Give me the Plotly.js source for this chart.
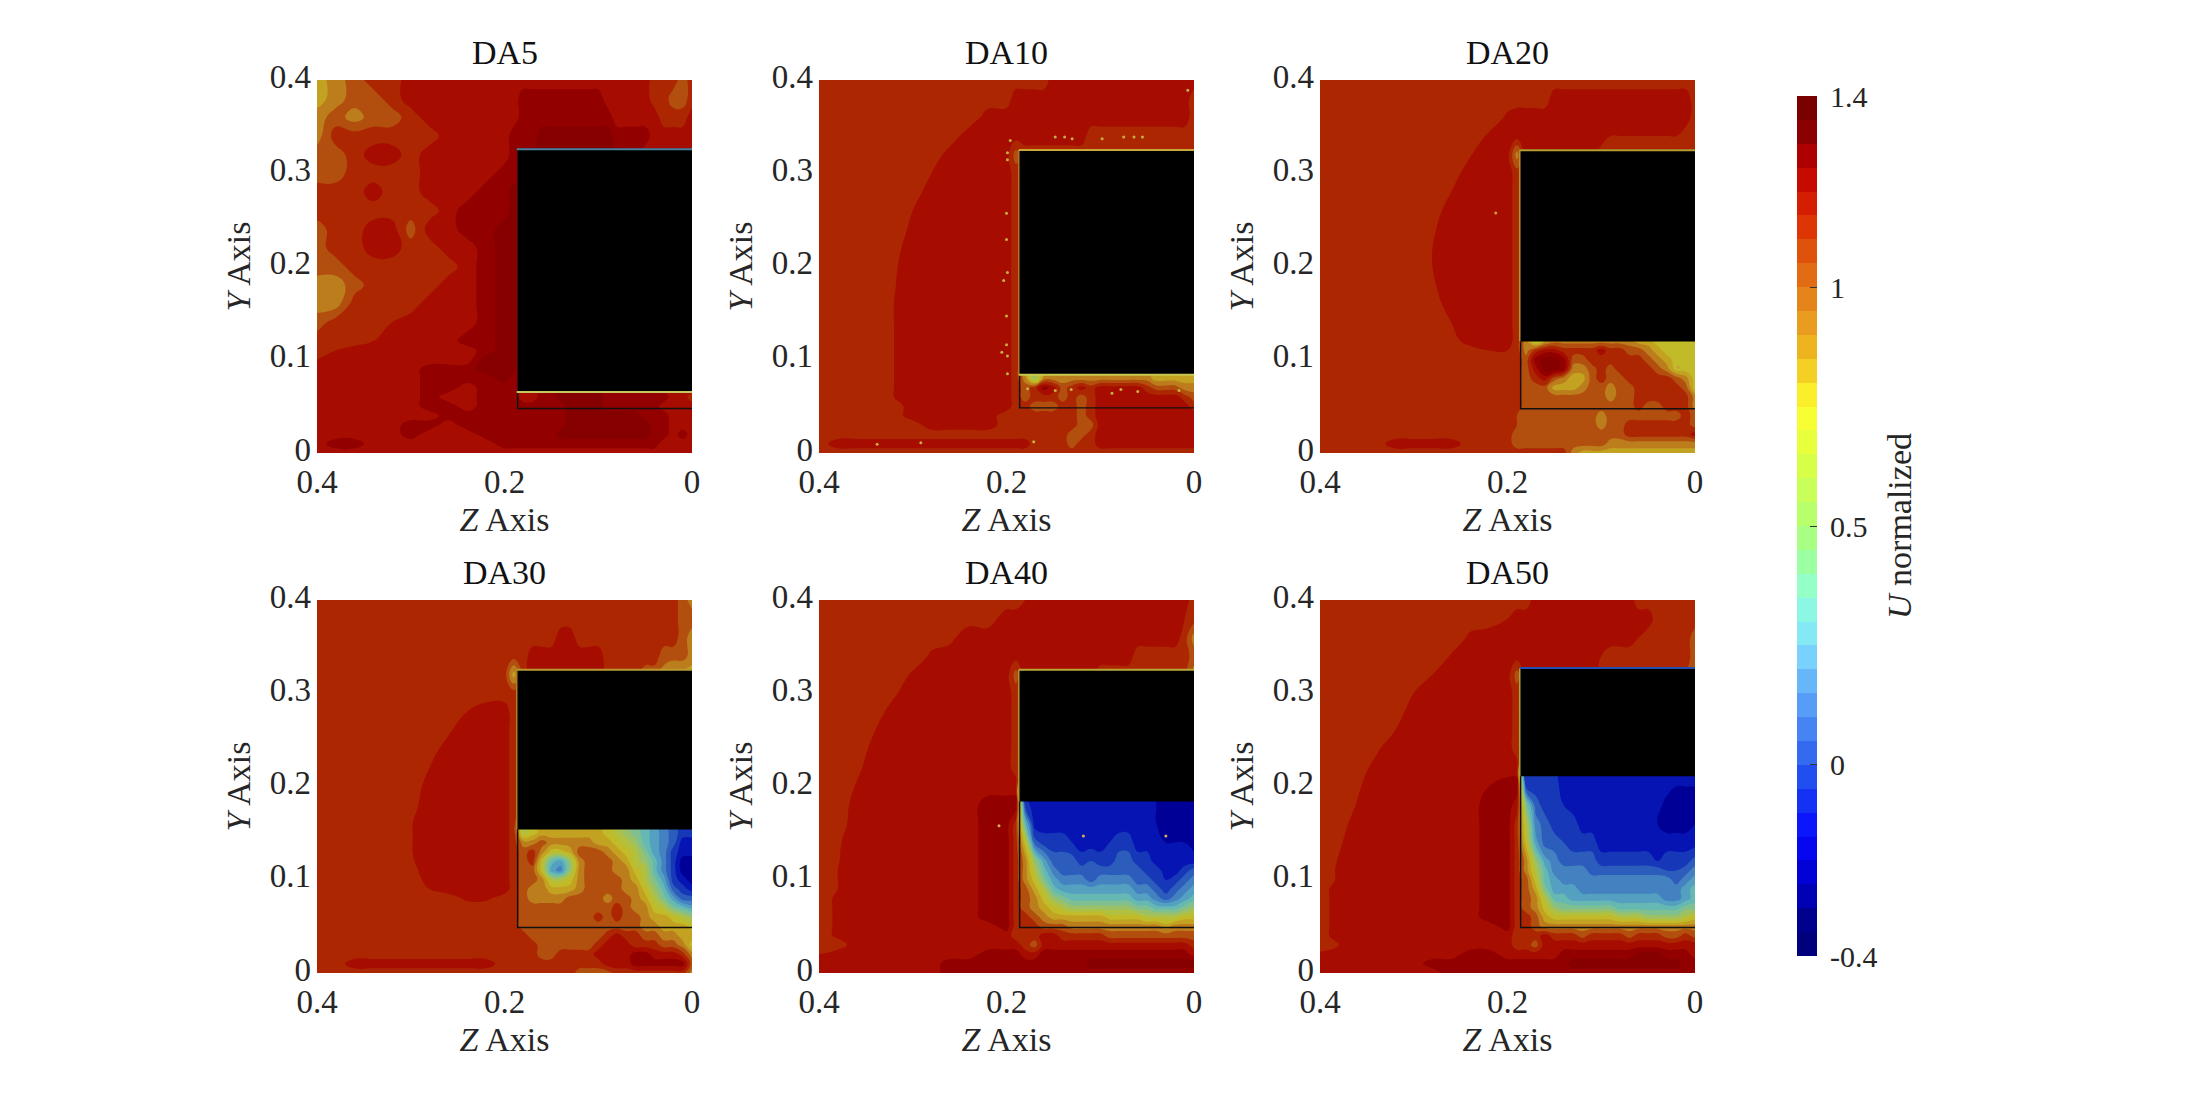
<!DOCTYPE html>
<html>
<head>
<meta charset="utf-8">
<script src="https://cdn.plot.ly/plotly-3.0.1.min.js"></script>
<style>html,body{margin:0;padding:0;background:#fff}</style>
</head>
<body>
<div id="chart" style="width:2187px;height:1093px"></div>
<script>
/***** grid, shared by all panels *****/
var zAxisNodes = [.40,.38,.36,.34,.32,.30,.28,.26,.24,.22,.20,
  .19,.18,.17,.16,.15,.14,.13,.12,.11,.10,
  .09,.08,.07,.06,.05,.04,.03,.02,.01,0];
var yNodes = [.40,.38,.36,.34,.32,.30,.28,.26,.24,.22,.20,.18,.16,.14,.12,.11,.10,.09,.08,.07,.06,.05,.04,.03,.02,.01,0];
var yNodesDA30 = [.40,.38,.36,.34,.32,.30,.28,.26,.24,.22,.20,.18,.16,.15,.14,.13,.12,.11,.10,.09,.08,.07,.06,.05,.04,.03,.02,.01,0];

/***** U normalized x 100, rows top to bottom *****/
var da5 = [
[75,85,95,105,105,115,115,115,115,115,115, 115,115,115,115,115,115,115,115,115,115, 115,115,115,115,115,105,105,105,95,105],
[75,85,95,95,105,115,115,115,115,115,115, 115,125,125,125,125,125,125,125,125,125, 115,115,115,115,115,105,105,95,95,105],
[85,95,85,95,95,105,115,115,115,115,115, 115,125,125,125,125,125,125,125,125,125, 125,115,115,115,115,115,105,105,105,115],
[85,105,105,105,105,105,105,115,115,115,115, 125,125,125,135,135,135,135,135,135,135, 135,125,125,125,125,115,115,115,115,115],
[95,95,105,115,115,105,115,115,115,115,115, 125,125,125,135,135,135,135,135,135,135, 135,125,125,125,115,115,115,115,115,115],
[95,95,105,105,105,105,115,115,115,115,125, 125,125,125,125,125,125,125,125,125,125, 125,115,115,115,115,115,115,115,115,115],
[105,105,105,115,105,105,115,115,115,125,125, 135,115,115,115,115,115,115,115,115,115, 115,115,115,115,115,115,115,115,115,115],
[105,105,105,105,105,105,105,115,125,125,125, 135,115,115,115,115,115,115,115,115,115, 115,115,115,115,115,115,115,115,115,115],
[95,105,105,115,115,95,115,115,125,125,135, 135,115,115,115,115,115,115,115,115,115, 115,115,115,115,115,115,115,115,115,115],
[95,105,105,115,115,105,105,115,115,125,135, 135,115,115,115,115,115,115,115,115,115, 115,115,115,115,115,115,115,115,115,115],
[95,95,105,105,105,105,105,105,115,125,135, 135,115,115,115,115,115,115,115,115,115, 115,115,115,115,115,115,115,115,115,115],
[85,85,95,105,105,105,105,115,115,125,135, 135,115,115,115,115,115,115,115,115,115, 115,115,115,115,115,115,115,115,115,115],
[85,85,105,105,105,105,115,115,115,125,135, 135,115,115,115,115,115,115,115,115,115, 115,115,115,115,115,115,115,115,115,115],
[95,105,105,105,110,115,115,115,115,125,135, 135,115,115,115,115,115,115,115,115,115, 115,115,115,115,115,115,115,115,115,115],
[105,105,105,110,115,115,115,115,125,125,135, 135,115,115,115,115,115,115,115,115,115, 115,115,115,115,115,115,115,115,115,115],
[105,110,115,115,115,115,115,115,115,125,135, 135,115,115,115,115,115,115,115,115,115, 115,115,115,115,115,115,115,115,115,115],
[110,115,115,115,115,115,115,115,115,135,135, 135,115,115,115,115,115,115,115,115,115, 115,115,115,115,115,115,115,115,115,115],
[115,115,115,115,115,115,125,125,125,135,135, 135,115,115,115,115,115,115,115,115,115, 115,115,115,115,115,115,115,115,115,115],
[115,115,115,115,115,115,125,125,125,125,135, 125,115,115,115,115,115,115,115,115,115, 115,115,115,115,115,115,115,115,115,115],
[115,115,115,115,115,115,125,125,115,125,125, 125,115,115,125,125,135,135,135,135,135, 125,125,125,125,115,115,115,115,115,115],
[115,115,115,115,115,115,125,115,115,125,125, 125,115,115,125,125,135,135,135,135,135, 125,125,125,125,125,125,125,115,115,105],
[115,115,115,115,115,115,125,125,115,125,125, 125,125,125,125,125,125,135,135,135,135, 125,125,125,125,125,125,115,115,115,115],
[115,115,115,115,115,115,115,125,125,125,125, 125,125,125,125,125,125,135,135,135,135, 135,135,135,135,125,125,125,115,115,115],
[115,115,115,115,115,125,125,115,125,125,125, 125,125,125,125,125,125,135,135,135,135, 135,135,135,135,135,125,125,115,115,115],
[115,115,115,115,115,125,115,115,115,125,125, 125,125,125,125,125,135,135,135,135,135, 135,135,135,135,135,125,125,115,125,115],
[115,125,125,115,115,115,115,115,115,115,125, 125,125,125,125,125,125,125,125,125,125, 125,125,125,125,125,125,115,115,115,115],
[115,115,115,115,115,115,115,115,115,115,115, 115,115,115,115,115,115,115,115,115,115, 115,115,115,115,115,115,115,115,115,115]
];
var da10 = [
[105,105,105,105,105,105,105,105,105,105,105, 105,105,105,105,115,115,115,115,115,115, 115,115,115,115,115,115,115,115,115,115],
[105,105,105,105,105,105,105,105,105,105,105, 115,115,115,115,115,115,115,115,115,115, 115,115,115,115,115,115,115,115,115,105],
[105,105,105,105,105,105,105,105,104,114,115, 115,115,115,115,115,115,115,115,115,115, 115,115,115,115,115,115,115,115,115,105],
[105,105,105,105,105,105,105,105,115,115,115, 115,115,115,115,115,115,115,115,105,105, 105,105,105,105,105,105,105,105,105,105],
[105,105,105,105,105,105,104,114,115,115,115, 95,105,105,105,105,105,105,105,105,105, 105,105,105,105,105,105,105,105,105,105],
[105,105,105,105,105,105,110,115,115,115,115, 105,105,105,105,105,105,105,105,105,105, 105,105,105,105,105,105,105,105,105,105],
[105,105,105,105,105,105,115,115,115,115,115, 105,105,105,105,105,105,105,105,105,105, 105,105,105,105,105,105,105,105,105,105],
[105,105,105,105,105,110,115,115,115,115,115, 105,105,105,105,105,105,105,105,105,105, 105,105,105,105,105,105,105,105,105,105],
[105,105,105,105,103,113,115,115,115,115,115, 105,105,105,105,105,105,105,105,105,105, 105,105,105,105,105,105,105,105,105,105],
[105,105,105,105,106,116,115,115,115,115,115, 105,105,105,105,105,105,105,105,105,105, 105,105,105,105,105,105,105,105,105,105],
[105,105,105,105,108,118,115,115,115,115,115, 105,105,105,105,105,105,105,105,105,105, 105,105,105,105,105,105,105,105,105,105],
[105,105,105,105,109,119,115,115,115,115,115, 105,105,105,105,105,105,105,105,105,105, 105,105,105,105,105,105,105,105,105,105],
[105,105,105,105,110,115,115,115,115,115,115, 105,105,105,105,105,105,105,105,105,105, 105,105,105,105,105,105,105,105,105,105],
[105,105,105,105,110,115,115,115,115,115,115, 105,105,105,105,105,105,105,105,105,105, 105,105,105,105,105,105,105,105,105,105],
[105,105,105,105,110,115,115,115,115,115,115, 105,105,105,105,105,105,105,105,105,105, 105,105,105,105,105,105,105,105,105,105],
[105,105,105,105,110,115,115,115,115,115,115, 105,105,105,105,105,105,105,105,105,105, 105,105,105,105,105,105,105,105,105,105],
[105,105,105,105,110,115,115,115,115,115,115, 105,105,105,105,105,105,105,105,105,105, 105,105,105,105,105,105,105,105,105,105],
[105,105,105,105,110,115,115,115,115,115,115, 105,85,45,85,85,85,85,85,85,85, 85,85,85,85,85,75,75,75,75,75],
[105,105,105,105,110,115,115,115,115,115,115, 105,85,45,85,85,85,85,85,85,85, 85,85,85,85,85,75,75,75,75,75],
[105,105,105,105,110,115,115,115,115,115,115, 105,95,105,125,115,95,105,115,105,115, 115,115,115,115,105,95,95,95,85,85],
[105,105,105,105,110,115,115,115,115,115,115, 105,95,105,105,105,95,105,95,105,115, 115,115,115,115,115,115,115,115,105,95],
[105,105,105,105,105,115,115,115,115,115,115, 105,105,95,95,95,105,105,95,105,115, 115,115,115,115,115,115,115,115,115,105],
[105,105,105,105,105,115,115,115,115,115,105, 105,105,105,105,105,105,105,95,105,115, 115,115,115,115,115,115,115,115,115,115],
[105,105,105,105,105,105,115,115,115,115,105, 105,105,105,105,105,105,105,95,95,115, 115,115,115,115,115,115,115,115,115,115],
[105,105,105,105,105,105,105,105,105,105,105, 105,105,105,105,105,105,95,95,105,115, 115,115,115,115,115,115,115,115,115,115],
[105,115,115,115,115,115,115,115,115,115,115, 115,115,105,105,105,105,95,105,105,115, 115,115,115,115,115,115,115,115,115,115],
[105,105,105,105,105,105,105,105,105,105,105, 105,105,105,105,105,105,105,105,105,105, 105,105,105,105,105,105,105,105,105,105]
];
var da20 = [
[105,105,105,105,105,105,105,105,105,105,105, 105,105,105,105,105,105,105,105,105,105, 105,105,105,105,105,105,105,105,105,105],
[105,105,105,105,105,105,105,105,105,105,105, 105,105,105,105,115,115,115,115,115,115, 115,115,115,115,115,115,115,115,115,105],
[105,105,105,105,105,105,105,105,105,102,112, 115,115,115,115,115,115,115,115,115,115, 115,115,115,115,115,115,115,115,115,105],
[105,105,105,105,105,105,105,105,102,112,115, 115,115,115,115,115,115,115,115,115,115, 110,110,110,110,110,110,110,110,105,105],
[105,105,105,105,105,105,105,105,109,119,115, 85,115,115,115,115,115,115,115,115,105, 105,105,105,105,105,105,105,105,105,105],
[105,105,105,105,105,105,105,105,115,115,115, 105,105,105,105,105,105,105,105,105,105, 105,105,105,105,105,105,105,105,105,105],
[105,105,105,105,105,105,105,110,115,115,115, 105,105,105,105,105,105,105,105,105,105, 105,105,105,105,105,105,105,105,105,105],
[105,105,105,105,105,105,105,115,115,115,115, 105,105,105,105,105,105,105,105,105,105, 105,105,105,105,105,105,105,105,105,105],
[105,105,105,105,105,105,108,118,115,115,115, 105,105,105,105,105,105,105,105,105,105, 105,105,105,105,105,105,105,105,105,105],
[105,105,105,105,105,105,110,115,115,115,115, 105,105,105,105,105,105,105,105,105,105, 105,105,105,105,105,105,105,105,105,105],
[105,105,105,105,105,105,110,115,115,115,115, 105,105,105,105,105,105,105,105,105,105, 105,105,105,105,105,105,105,105,105,105],
[105,105,105,105,105,105,108,118,115,115,115, 105,105,105,105,105,105,105,105,105,105, 105,105,105,105,105,105,105,105,105,105],
[105,105,105,105,105,105,105,115,115,115,115, 105,105,105,105,105,105,105,105,105,105, 105,105,105,105,105,105,105,105,105,105],
[105,105,105,105,105,105,105,110,115,115,115, 105,105,105,105,105,105,105,105,105,105, 105,105,105,105,105,105,105,105,105,105],
[105,105,105,105,105,105,105,105,115,115,115, 105,85,55,75,85,85,85,85,85,85, 85,85,85,75,75,65,65,65,65,65],
[105,105,105,105,105,105,105,105,105,110,110, 105,85,105,115,115,105,105,105,105,115, 105,105,95,95,85,75,65,65,65,65],
[105,105,105,105,105,105,105,105,105,105,105, 105,95,125,135,135,125,95,95,105,105, 105,105,105,105,95,85,75,65,65,65],
[105,105,105,105,105,105,105,105,105,105,105, 105,95,115,135,135,125,85,85,95,105, 95,105,105,105,105,95,85,65,65,65],
[105,105,105,105,105,105,105,105,105,105,105, 105,95,105,115,95,85,75,75,95,105, 95,95,105,105,105,105,105,95,85,65],
[105,105,105,105,105,105,105,105,105,105,105, 105,95,95,95,75,75,75,85,95,95, 85,95,95,105,105,105,105,105,95,65],
[105,105,105,105,105,105,105,105,105,105,105, 105,95,95,95,95,95,95,95,95,95, 85,95,95,105,105,105,105,105,105,85],
[105,105,105,105,105,105,105,105,105,105,105, 105,95,95,95,95,95,95,95,95,95, 95,95,95,105,95,95,105,105,105,85],
[105,105,105,105,105,105,105,105,105,105,105, 100,95,95,95,95,95,95,95,95,85, 95,95,95,95,95,95,95,95,105,95],
[105,105,105,105,105,105,105,105,105,105,105, 100,95,95,95,95,95,95,95,95,85, 95,95,105,105,105,105,105,105,105,95],
[105,105,105,105,105,105,105,105,105,105,105, 95,95,95,95,95,95,95,95,95,95, 95,95,105,105,105,105,105,105,105,115],
[105,105,105,105,115,115,115,115,105,105,105, 95,95,95,95,95,95,95,95,95,95, 85,85,85,85,85,85,85,85,85,85],
[105,105,105,105,105,105,105,105,105,105,105, 105,105,105,105,105,105,85,75,75,75, 75,75,75,75,75,75,75,75,75,75]
];
var da30 = [
[105,105,105,105,105,105,105,105,105,105,105, 105,105,105,105,105,105,105,105,105,105, 105,105,105,105,105,105,105,105,95,85],
[105,105,105,105,105,105,105,105,105,105,105, 105,105,105,105,105,105,105,105,105,105, 105,105,105,105,105,105,105,105,95,95],
[105,105,105,105,105,105,105,105,105,105,105, 105,105,105,105,105,115,115,105,105,105, 105,105,105,105,105,105,105,105,95,85],
[105,105,105,105,105,105,105,105,105,105,105, 105,105,115,115,115,115,115,115,115,115, 105,105,105,105,105,105,95,95,95,85],
[105,105,105,105,105,105,105,105,105,105,105, 75,105,115,115,115,115,115,115,115,115, 105,105,105,105,95,95,85,75,75,75],
[105,105,105,105,105,105,105,105,105,105,105, 105,105,105,105,105,105,105,105,105,105, 105,105,105,105,105,105,105,105,105,105],
[105,105,105,105,105,105,105,105,110,115,115, 105,105,105,105,105,105,105,105,105,105, 105,105,105,105,105,105,105,105,105,105],
[105,105,105,105,105,105,105,108,118,115,115, 105,105,105,105,105,105,105,105,105,105, 105,105,105,105,105,105,105,105,105,105],
[105,105,105,105,105,105,105,115,115,115,115, 105,105,105,105,105,105,105,105,105,105, 105,105,105,105,105,105,105,105,105,105],
[105,105,105,105,105,105,110,115,115,115,115, 105,105,105,105,105,105,105,105,105,105, 105,105,105,105,105,105,105,105,105,105],
[105,105,105,105,105,104,114,115,115,115,115, 105,105,105,105,105,105,105,105,105,105, 105,105,105,105,105,105,105,105,105,105],
[105,105,105,105,105,106,116,115,115,115,115, 105,105,105,105,105,105,105,105,105,105, 105,105,105,105,105,105,105,105,105,105],
[105,105,105,105,105,109,119,115,115,115,115, 105,55,65,75,75,75,75,75,75,75, 65,55,45,35,25,15,5,-5,-15,-15],
[105,105,105,105,105,109,119,115,115,115,115, 105,55,65,75,75,75,75,75,75,75, 65,55,45,35,25,15,5,-5,-15,-15],
[105,105,105,105,105,109,119,115,115,115,115, 105,85,85,95,85,85,85,85,85,75, 75,65,55,45,25,15,5,-5,-25,-25],
[105,105,105,105,105,109,119,115,115,115,115, 105,95,105,85,65,65,75,95,95,95, 85,75,65,55,35,15,5,-15,-25,-25],
[105,105,105,105,105,108,118,115,115,115,115, 105,95,105,65,25,15,45,85,95,95, 95,85,75,55,45,25,5,-15,-35,-35],
[105,105,105,105,105,106,116,115,115,115,115, 105,95,95,65,15,5,45,85,95,95, 95,85,85,65,55,25,5,-15,-35,-35],
[105,105,105,105,105,104,114,115,115,115,115, 105,95,95,85,55,55,65,85,95,95, 95,95,85,75,55,35,15,-15,-25,-35],
[105,105,105,105,105,105,110,115,115,115,115, 105,95,85,85,75,75,75,85,95,95, 95,95,85,85,65,45,25,-5,-15,-25],
[105,105,105,105,105,105,105,105,112,112,105, 105,95,85,85,85,85,95,95,95,95, 85,95,95,85,75,55,35,15,-5,-5],
[105,105,105,105,105,105,105,105,105,105,105, 105,95,95,95,95,95,95,95,95,95, 95,105,95,85,85,65,55,35,25,15],
[105,105,105,105,105,105,105,105,105,105,105, 105,95,95,95,95,95,95,95,95,105, 95,105,95,95,85,75,75,65,55,45],
[105,105,105,105,105,105,105,105,105,105,105, 105,95,95,95,95,95,95,95,95,95, 95,95,95,95,85,85,75,75,75,65],
[105,105,105,105,105,105,105,105,105,105,105, 105,105,95,95,95,95,95,95,95,95, 105,115,105,105,95,95,85,85,75,75],
[105,105,105,105,105,105,105,105,105,105,105, 105,105,105,95,95,95,95,95,95,105, 115,115,115,105,105,105,95,95,85,65],
[105,105,105,105,105,105,105,105,105,105,105, 105,105,105,95,95,105,105,105,105,115, 115,115,115,125,125,115,115,115,105,85],
[105,105,115,115,115,115,115,115,115,115,105, 105,105,105,105,105,105,105,105,105,105, 115,115,115,125,125,125,125,125,125,95],
[105,105,105,105,105,105,105,105,105,105,105, 105,105,105,105,105,105,105,95,95,95, 95,105,105,105,105,105,105,105,105,85]
];
var da40 = [
[105,105,105,105,105,105,105,105,105,105,105, 105,110,115,115,115,115,115,115,115,115, 115,115,115,115,115,115,115,115,115,105],
[105,105,105,105,105,105,105,105,105,105,115, 115,115,115,115,115,115,115,115,115,115, 115,115,115,115,115,115,115,115,110,105],
[105,105,105,105,105,105,105,107,117,115,115, 115,115,115,115,115,115,115,115,115,115, 115,115,115,115,115,115,115,115,105,85],
[105,105,105,105,105,102,112,115,115,115,115, 115,115,115,115,115,115,115,115,115,115, 115,115,115,105,105,105,105,105,105,95],
[105,105,105,105,102,112,115,115,115,115,115, 95,115,115,115,115,115,115,115,115,105, 105,105,105,105,105,105,105,105,105,85],
[105,105,105,105,108,118,115,115,115,115,115, 105,105,105,105,105,105,105,105,105,105, 105,105,105,105,105,105,105,105,105,105],
[105,105,105,105,115,115,115,115,115,115,115, 105,105,105,105,105,105,105,105,105,105, 105,105,105,105,105,105,105,105,105,105],
[105,105,105,110,115,115,115,115,115,115,115, 105,105,105,105,105,105,105,105,105,105, 105,105,105,105,105,105,105,105,105,105],
[105,105,104,114,115,115,115,115,115,115,115, 105,105,105,105,105,105,105,105,105,105, 105,105,105,105,105,105,105,105,105,105],
[105,105,107,117,115,115,115,115,115,115,115, 105,105,105,105,105,105,105,105,105,105, 105,105,105,105,105,105,105,105,105,105],
[105,101,111,115,115,115,115,115,115,115,115, 115,-25,-25,-25,-25,-25,-25,-25,-25,-25, -25,-25,-25,-25,-25,-30,-35,-35,-35,-35],
[105,104,114,115,115,115,115,115,115,125,125, 125,-15,-25,-25,-25,-25,-25,-25,-25,-25, -25,-25,-25,-25,-25,-30,-35,-35,-35,-35],
[105,105,115,115,115,115,115,115,115,125,125, 105,25,-25,-25,-25,-25,-25,-25,-25,-25, -25,-25,-25,-25,-25,-30,-35,-35,-35,-35],
[105,108,118,115,115,115,115,115,115,125,125, 105,65,-5,-15,-15,-15,-20,-25,-25,-25, -20,-15,-15,-25,-25,-25,-30,-30,-30,-35],
[105,109,119,115,115,115,115,115,115,125,125, 105,85,45,15,-5,-5,-5,-15,-10,-15, -15,-5,-5,-15,-15,-25,-25,-25,-25,-25],
[105,110,115,115,115,115,115,115,115,125,125, 105,85,55,25,5,-5,-5,-5,-5,-5, -5,-5,-5,-5,-15,-15,-25,-25,-15,-5],
[105,110,115,115,115,115,115,115,115,125,125, 105,85,65,35,15,5,5,5,-5,5, 5,5,5,-5,-5,-15,-20,-15,-5,5],
[105,110,115,115,115,115,115,115,115,125,125, 105,95,75,55,25,15,15,15,15,15, 15,15,15,5,5,-5,-15,-5,5,15],
[105,112,115,115,115,115,115,115,115,125,125, 105,95,85,65,45,35,25,25,25,25, 25,25,25,15,15,5,-5,5,15,25],
[105,112,115,115,115,115,115,115,115,125,125, 105,95,85,75,65,55,45,45,45,45, 45,45,45,35,35,25,25,25,35,45],
[105,112,115,115,115,115,115,115,115,125,125, 105,105,95,85,75,75,75,75,75,75, 65,65,65,65,55,55,55,55,65,65],
[105,112,115,115,115,115,115,115,115,115,125, 105,105,105,95,95,95,85,85,85,85, 85,85,85,85,85,85,75,85,85,85],
[105,112,115,115,115,115,115,115,115,115,115, 105,105,105,115,115,105,105,105,105,105, 95,95,95,95,95,95,95,95,95,95],
[105,105,115,115,115,115,115,115,115,115,115, 115,105,95,115,115,115,115,115,115,115, 115,115,115,115,115,115,115,115,115,105],
[110,115,115,115,115,115,115,115,115,125,125, 125,115,115,125,125,125,125,125,125,125, 125,125,125,125,125,125,125,125,125,115],
[115,115,115,115,115,115,115,125,125,125,125, 125,125,125,125,125,125,125,125,135,135, 135,135,135,135,135,135,135,135,135,135],
[115,115,115,115,115,115,115,125,125,125,125, 125,125,125,125,125,125,125,125,125,125, 125,125,125,125,125,125,125,125,125,125]
];
var da50 = [
[105,105,105,105,105,105,105,105,105,105,105, 105,105,115,115,115,115,115,115,115,115, 115,115,115,105,105,105,105,105,105,105],
[105,105,105,105,105,105,105,105,105,105,110, 115,115,115,115,115,115,115,115,115,115, 115,115,115,115,115,105,105,105,105,105],
[105,105,105,105,105,105,105,102,112,115,115, 115,115,115,115,115,115,115,115,115,115, 115,115,115,110,105,105,105,105,105,95],
[105,105,105,105,105,105,101,111,115,115,115, 115,115,115,115,115,115,115,115,115,110, 105,105,105,105,105,105,105,105,105,95],
[105,105,105,105,105,105,110,115,115,115,115, 95,115,115,115,115,115,115,115,115,105, 105,105,105,105,105,105,105,105,105,85],
[105,105,105,105,105,110,115,115,115,115,115, 105,105,105,105,105,105,105,105,105,105, 105,105,105,105,105,105,105,105,105,105],
[105,105,105,105,105,115,115,115,115,115,115, 105,105,105,105,105,105,105,105,105,105, 105,105,105,105,105,105,105,105,105,105],
[105,105,105,105,110,115,115,115,115,115,115, 105,105,105,105,105,105,105,105,105,105, 105,105,105,105,105,105,105,105,105,105],
[105,105,105,108,118,115,115,115,115,115,115, 105,105,105,105,105,105,105,105,105,105, 105,105,105,105,105,105,105,105,105,105],
[105,105,104,114,115,115,115,115,115,115,115, 115,-15,-15,-15,-15,-25,-25,-25,-25,-25, -25,-25,-25,-25,-25,-25,-25,-30,-30,-30],
[105,105,108,118,115,115,115,115,115,120,125, 125,-15,-15,-15,-15,-25,-25,-25,-25,-25, -25,-25,-25,-25,-25,-25,-25,-30,-30,-30],
[105,101,111,115,115,115,115,115,115,125,125, 115,35,-5,-15,-15,-20,-25,-25,-25,-25, -25,-25,-25,-25,-25,-25,-35,-35,-35,-35],
[105,105,115,115,115,115,115,115,115,125,125, 105,55,5,-5,-15,-15,-15,-25,-25,-25, -25,-25,-25,-25,-25,-30,-35,-35,-35,-30],
[105,108,118,115,115,115,115,115,115,125,125, 105,65,15,-5,-5,-10,-15,-15,-15,-25, -25,-25,-25,-25,-25,-25,-25,-25,-25,-25],
[101,111,115,115,115,115,115,115,115,125,125, 105,85,45,15,5,-5,-5,-5,-5,-15, -15,-15,-15,-15,-15,-20,-15,-15,-15,-5],
[102,112,115,115,115,115,115,115,115,125,125, 105,85,55,25,5,5,5,5,-5,-5, -5,-5,-5,-5,-5,-5,-10,-10,-5,5],
[102,112,115,115,115,115,115,115,115,125,125, 105,95,65,25,15,5,5,5,5,5, 5,5,5,5,5,5,5,-5,5,15],
[105,115,115,115,115,115,115,115,115,125,125, 105,95,75,35,15,15,15,5,5,5, 5,5,5,5,5,5,5,5,15,25],
[105,115,115,115,115,115,115,115,115,125,125, 105,95,85,55,25,25,15,15,15,15, 15,15,15,15,15,15,5,5,15,25],
[105,115,115,115,115,115,115,115,115,125,125, 105,95,85,65,45,35,35,35,35,35, 35,25,25,25,25,25,25,25,35,35],
[105,115,115,115,115,115,115,115,115,125,125, 105,105,95,75,65,65,65,65,65,65, 65,55,55,55,45,45,45,45,55,65],
[105,115,115,115,115,115,115,115,115,115,125, 105,105,95,85,85,85,85,85,85,85, 85,85,85,85,85,85,85,85,85,85],
[105,115,115,115,115,115,115,115,115,115,115, 105,105,105,115,105,105,105,95,105,105, 105,105,95,105,105,105,95,95,105,95],
[105,110,115,115,115,115,115,115,115,115,115, 105,105,95,115,115,115,115,115,115,115, 115,115,115,115,115,115,115,115,115,115],
[112,115,115,115,115,115,115,115,125,125,115, 115,115,115,115,115,125,125,125,125,125, 125,125,125,135,135,135,125,125,125,115],
[115,115,115,115,115,115,125,125,125,125,125, 125,125,125,125,125,125,135,135,135,135, 135,135,135,135,135,135,135,135,125,125],
[115,115,115,115,115,115,115,125,125,125,125, 125,125,125,125,125,125,125,125,125,125, 125,125,125,125,125,125,125,125,125,125]
];

/***** bluff body and probe box per panel *****/
var panelTitles = ['DA5','DA10','DA20','DA30','DA40','DA50'];
var panelRows = [da5,da10,da20,da30,da40,da50];
var panelY = [yNodes,yNodes,yNodes,yNodesDA30,yNodes,yNodes];
var bodyEdge = 0.187;
var bodyTop = [0.3257,0.3249,0.3246,0.3252,0.3252,0.327];
var bodyBottom = [0.0655,0.084,0.1197,0.1539,0.184,0.2109];
var boxEdge = 0.186;
var boxBottom = [0.0478,0.0484,0.0475,0.0488,0.0488,0.0488];
var topEdgeColor = ['#4a80a0','#c8a838','#b8a030','#b89a30','#b8a838','#2450b0'];
var sideEdgeColor = ['#8a0000','#b87028','#b89030','#b07a28','#b89030','#b0a040'];
var lowEdgeColor = ['#c8c860','#c8c850',null,null,null,null];

/***** stray cells *****/
var speckZ = [[],
  [.199,.199,.196,.2,.2,.199,.203,.2,.2,.205,.199,.199,.148,.138,.13,.098,.075,.064,.055,.1775,.148,.131,.0875,.078,.06,.016,.338,.2914,.171,.0066],
  [.2125,.0178],[],[.208,.118,.03],[]];
var speckY = [[],
  [.322,.3146,.335,.257,.229,.1935,.185,.147,.116,.108,.104,.085,.339,.339,.337,.337,.339,.339,.339,.069,.067,.068,.064,.068,.066,.067,.0095,.011,.012,.389],
  [.2574,.0919],[],[.158,.147,.147],[]];
var speckColor = ['#c8b040','#c8b040','#c8a040','#c8b040','#d8b050','#c8b040'];

/***** colours: plot bands are 0.1 wide from -0.4 to 1.4, the bar is finer *****/
var plotBands = ['#00007c','#0000b0','#0c28b8','#2048b8','#3a72c0','#4c90c2','#5cb0c0','#70c0a4','#8cc080',
  '#a8c050','#bcc030','#c6b422','#c09020','#b86a18','#ad3303','#ad1800','#9e0000','#860000'];
var barBands = ['#00007c','#0000c8','#0808ff','#1840f0','#3c78f0','#60a8f8','#80e0ff','#90ffd8','#a0ff90',
  '#c0ff60','#e0ff40','#ffff30','#f0c020','#e89020','#e06010','#dc2800','#c00000','#7a0000'];
var barLevels = [-.375,-.325,-.275,-.225,-.175,-.125,-.075,-.025,.025,.075,.125,.175,.225,.275,.325,.375,.425,.475,
  .525,.575,.625,.675,.725,.775,.825,.875,.925,.975,1.025,1.075,1.125,1.175,1.225,1.275,1.325,1.375];
var barTicks = [-0.4,0,0.5,1,1.4];
var barTickText = ['-0.4','0','0.5','1','1.4'];

var yTicks = [0,0.1,0.2,0.3,0.4];
var yTickText = ['0','0.1','0.2','0.3','0.4'];
var xTicks = [0.4,0.2,0];
var xTickText = ['0.4','0.2','0'];

var W = 2187, H = 1093;
var columns = [[317,692],[819,1194],[1320,1695]];
var rowsPx = [[80,453],[600,973]];
var font = 'Liberation Serif, Times New Roman, serif';
var ink = '#262626';

function withEnds(bands) {
  var s = bands.map(function (c, i) { return [(i + 0.5) / bands.length, c]; });
  s.unshift([0, bands[0]]);
  s.push([1, bands[bands.length - 1]]);
  return s;
}

var data = [];
var layout = {
  width: W, height: H,
  margin: {l: 0, r: 0, t: 0, b: 0},
  paper_bgcolor: '#fff',
  plot_bgcolor: '#fff',
  showlegend: false,
  font: {family: font, size: 33, color: ink},
  annotations: [],
  shapes: []
};

panelTitles.forEach(function (name, i) {
  var n = i + 1;
  var col = columns[i % 3], row = rowsPx[Math.floor(i / 3)];
  var xName = 'x' + n, yName = 'y' + n;
  var xKey = 'xaxis' + n, yKey = 'yaxis' + n;

  data.push({
    type: 'contour',
    x: zAxisNodes,
    y: panelY[i],
    z: panelRows[i].map(function (r) { return r.map(function (v) { return v / 100; }); }),
    xaxis: xName, yaxis: yName,
    colorscale: withEnds(plotBands),
    showscale: false,
    contours: {start: -0.4, end: 1.3, size: 0.1, coloring: 'fill', showlines: false},
    line: {width: 0, smoothing: 1.3},
    hoverinfo: 'skip'
  });
  data.push({
    type: 'scatter', mode: 'markers',
    x: speckZ[i], y: speckY[i],
    xaxis: xName, yaxis: yName,
    marker: {color: speckColor[i], size: 3},
    hoverinfo: 'skip'
  });

  layout[xKey] = {
    domain: [col[0] / W, col[1] / W],
    range: [0.4, 0], anchor: yName,
    tickmode: 'array', tickvals: xTicks, ticktext: xTickText,
    ticks: '', showgrid: false, zeroline: false, showline: false,
    ticklabelstandoff: 6,
    tickfont: {size: 33, color: ink, family: font},
    title: {text: '<i>Z</i> Axis', font: {size: 34, color: ink, family: font}, standoff: 8}
  };
  layout[yKey] = {
    domain: [1 - row[1] / H, 1 - row[0] / H],
    range: [0, 0.4], anchor: xName,
    tickmode: 'array', tickvals: yTicks, ticktext: yTickText,
    ticks: '', showgrid: false, zeroline: false, showline: false,
    ticklabelstandoff: 5, ticklabelshift: -4,
    tickfont: {size: 33, color: ink, family: font},
    title: {text: '<i>Y</i> Axis', font: {size: 34, color: ink, family: font}, standoff: 8}
  };

  layout.annotations.push({
    text: name, showarrow: false,
    xref: 'paper', yref: 'paper',
    x: (col[0] + col[1]) / 2 / W, y: 1 - (row[0] - 28) / H,
    xanchor: 'center', yanchor: 'middle',
    font: {size: 34, color: '#111', family: font}
  });

  // black body, probe box and the thin bright edges of the body
  layout.shapes.push({
    type: 'rect', xref: xName, yref: yName, layer: 'above',
    x0: bodyEdge, x1: 0, y0: bodyBottom[i], y1: bodyTop[i],
    fillcolor: '#000', line: {width: 0}
  });
  layout.shapes.push({
    type: 'rect', xref: xName, yref: yName, layer: 'above',
    x0: boxEdge, x1: -0.002, y0: boxBottom[i], y1: bodyTop[i],
    fillcolor: 'rgba(0,0,0,0)', line: {color: '#111', width: 1.4}
  });
  layout.shapes.push({
    type: 'line', xref: xName, yref: yName, layer: 'above',
    x0: bodyEdge, x1: bodyEdge, y0: bodyBottom[i], y1: bodyTop[i],
    line: {color: sideEdgeColor[i], width: 1.5}
  });
  layout.shapes.push({
    type: 'line', xref: xName, yref: yName, layer: 'above',
    x0: bodyEdge, x1: 0, y0: bodyTop[i], y1: bodyTop[i],
    line: {color: topEdgeColor[i], width: 2}
  });
  if (lowEdgeColor[i]) {
    layout.shapes.push({
      type: 'line', xref: xName, yref: yName, layer: 'above',
      x0: bodyEdge, x1: 0, y0: bodyBottom[i], y1: bodyBottom[i],
      line: {color: lowEdgeColor[i], width: 2}
    });
  }
});

/***** colour bar, its own little axes *****/
data.push({
  type: 'heatmap',
  x: [0], y: barLevels,
  z: barLevels.map(function (v) { return [v]; }),
  xaxis: 'x7', yaxis: 'y7',
  zmin: -0.4, zmax: 1.4,
  colorscale: withEnds(barBands),
  showscale: false,
  hoverinfo: 'skip'
});
layout.xaxis7 = {
  domain: [1797 / W, 1817 / W], range: [-0.5, 0.5], anchor: 'y7',
  visible: false, fixedrange: true
};
layout.yaxis7 = {
  domain: [1 - 956 / H, 1 - 96 / H], range: [-0.4, 1.4], anchor: 'x7', side: 'right',
  tickmode: 'array', tickvals: barTicks, ticktext: barTickText,
  ticks: 'inside', ticklen: 7, tickcolor: '#333', tickwidth: 1,
  ticklabelstandoff: 12,
  showgrid: false, zeroline: false, showline: false,
  tickfont: {size: 30, color: ink, family: font},
  title: {text: '<i>U</i> normalized', font: {size: 34, color: ink, family: font}, standoff: 10}
};

Plotly.newPlot('chart', data, layout, {displayModeBar: false, staticPlot: true});
</script>
</body>
</html>
